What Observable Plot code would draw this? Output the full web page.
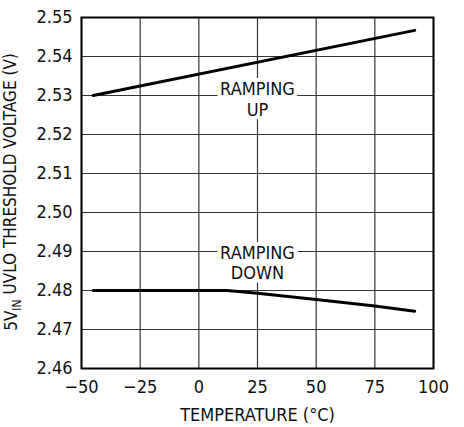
<!DOCTYPE html>
<html><head><meta charset="utf-8">
<script src="https://cdn.jsdelivr.net/npm/d3@7"></script>
<script src="https://cdn.jsdelivr.net/npm/@observablehq/plot@0.6"></script>
<style>
body{margin:0;background:#fff;}
svg{font-family:"Liberation Sans Narrow","DejaVu Sans Condensed",sans-serif;}
</style></head>
<body><div id="chart"></div>
<script>
const xTicks = [-50, -25, 0, 25, 50, 75, 100];
const yTicks = [2.46, 2.47, 2.48, 2.49, 2.50, 2.51, 2.52, 2.53, 2.54, 2.55];
const upTemp = [-45, 92];
const upVolt = [2.530, 2.5467];
const downTemp = [-45, 12, 25, 50, 75, 92];
const downVolt = [2.480, 2.480, 2.4793, 2.4777, 2.4760, 2.4747];
const labelText = ["RAMPING\nUP", "RAMPING\nDOWN"];
const labelTemp = [25, 25];
const labelVolt = [2.5291, 2.4872];

const up = upTemp.map((t, i) => ({t, v: upVolt[i]}));
const down = downTemp.map((t, i) => ({t, v: downVolt[i]}));
const labels = labelText.map((s, i) => ({s, t: labelTemp[i], v: labelVolt[i]}));

const fam = '"Liberation Sans Narrow","DejaVu Sans Condensed",sans-serif';
const chart = Plot.plot({
  width: 464, height: 427,
  marginLeft: 81, marginRight: 31, marginTop: 17, marginBottom: 59,
  style: {fontFamily: fam, fontSize: "18px", color: "#111", background: "#fff"},
  x: {domain: [-50, 100], ticks: xTicks},
  y: {domain: [2.46, 2.55], ticks: yTicks},
  marks: [
    Plot.gridX(xTicks, {stroke: "#333", strokeOpacity: 1, strokeWidth: 1.2}),
    Plot.gridY(yTicks, {stroke: "#333", strokeOpacity: 1, strokeWidth: 1.2}),
    Plot.text(labels, {x: "t", y: "v", text: "s", fontSize: 18, lineHeight: 1.15, fill: "#111", stroke: "white", strokeWidth: 8, paintOrder: "stroke"}),
    Plot.line(up, {x: "t", y: "v", stroke: "#000", strokeWidth: 3}),
    Plot.line(down, {x: "t", y: "v", stroke: "#000", strokeWidth: 3}),
    Plot.frame({stroke: "#000", strokeWidth: 2}),
    Plot.axisX(xTicks, {tickSize: 0, tickPadding: 12, fontSize: 18, tickFormat: d => d < 0 ? "\u2212" + Math.abs(d) : String(d), label: "TEMPERATURE (°C)", labelAnchor: "center", labelArrow: "none", labelOffset: 52}),
    Plot.axisY(yTicks, {tickSize: 0, tickPadding: 9, fontSize: 18, tickFormat: d => d.toFixed(2), label: null})
  ]
});
document.getElementById("chart").appendChild(chart);
const svg = d3.select(chart);
const t = svg.append("text")
  .attr("transform", "translate(17,192) rotate(-90)")
  .attr("text-anchor", "middle")
  .attr("fill", "#111")
  .style("font-size", "17px")
  .style("font-family", fam);
t.append("tspan").text("5V");
t.append("tspan").attr("dy", "0.3em").style("font-size", "12px").text("IN");
t.append("tspan").attr("dy", "-0.3em").text(" UVLO THRESHOLD VOLTAGE (V)");
</script></body></html>
